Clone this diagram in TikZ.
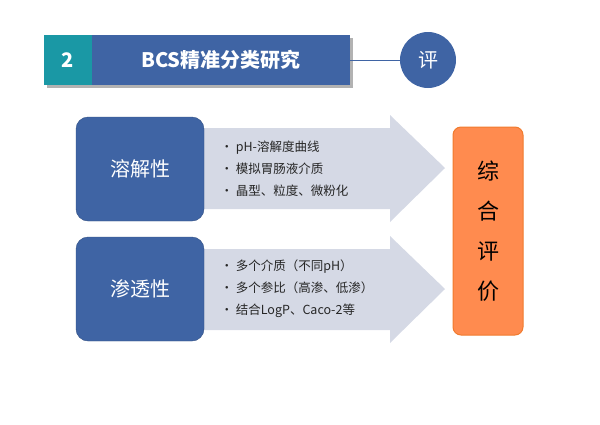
\documentclass[tikz,border=0pt]{standalone}
\usepackage{fontspec}
\setmainfont{Noto Sans CJK SC}
\usetikzlibrary{positioning,shapes.arrows}
\definecolor{hdTeal}{HTML}{1A98A5}
\definecolor{hdBlue}{HTML}{3F64A4}
\definecolor{arrowGray}{HTML}{D5D9E5}
\definecolor{evalOrange}{HTML}{FF8B4F}
\definecolor{evalLine}{HTML}{F07B2E}
\tikzset{
  propbox/.style={draw=hdBlue!80!black,fill=hdBlue,rounded corners=12pt,text=white,
    minimum width=128pt,minimum height=104pt,font=\fontsize{20}{24}\selectfont},
  bullettext/.style={align=left,anchor=west,font=\fontsize{12.5}{22}\selectfont,text=black!85},
}
\begin{document}
\begin{tikzpicture}[x=1pt,y=-1pt]
  \useasboundingbox (0,0) rectangle (600,424);
  %% header
  \fill[black!30] (47,38) rectangle (353,88);
  \fill[hdTeal] (44,35) rectangle (92,85);
  \fill[hdBlue] (92,35) rectangle (350,85);
  \node[text=white,font=\bfseries\fontsize{20}{24}\selectfont] (num) at (68,60) {2};
  \node[text=white,font=\bfseries\fontsize{20}{24}\selectfont] (title) at (221,60) {BCS精准分类研究};
  \node[circle,fill=hdBlue,minimum size=56pt,text=white,font=\fontsize{20}{24}\selectfont] (ping) at (428,60) {评};
  \coordinate (hdEnd) at (350,60);
  \draw[hdBlue,line width=1pt] (hdEnd) -- (ping);
  %% arrows
  \fill[arrowGray] (200,128) -- (390,128) -- (390,115) -- (445,168) -- (390,222) -- (390,209) -- (200,209) -- cycle;
  \fill[arrowGray] (200,249) -- (390,249) -- (390,236) -- (445,289) -- (390,343) -- (390,330) -- (200,330) -- cycle;
  %% property boxes
  \node[propbox] (sol) at (140,169) {溶解性};
  \node[propbox] (perm) at (140,289) {渗透性};
  \node[bullettext] (solList) at (217,169) {• pH-溶解度曲线\\• 模拟胃肠液介质\\• 晶型、粒度、微粉化};
  \node[bullettext] (permList) at (217,289) {• 多个介质（不同pH）\\• 多个参比（高渗、低渗）\\• 结合LogP、Caco-2等};
  %% overall evaluation
  \node[draw=evalLine,line width=1pt,fill=evalOrange,rounded corners=8pt,minimum width=70pt,minimum height=208pt,
    align=center,font=\fontsize{22}{40}\selectfont] (eval) at (488,231) {综\\合\\评\\价};
\end{tikzpicture}
\end{document}
